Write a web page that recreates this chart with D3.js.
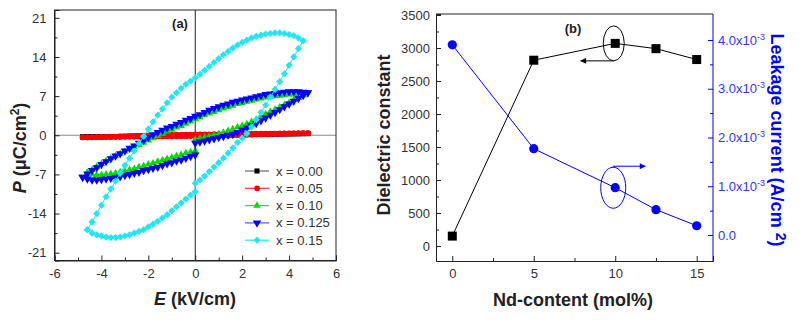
<!DOCTYPE html>
<html>
<head>
<meta charset="utf-8">
<script src="https://cdn.jsdelivr.net/npm/d3@7"></script>
<style>
body { margin: 0; background: #fff; }
svg { font-family: Arial, "Liberation Sans", sans-serif; }
.axis text { fill: #333; font-size: 13px; }
.axis path, .axis line { stroke: #222; }
</style>
</head>
<body>
<svg id="chart" width="799" height="320"></svg>
<script>
// ---- data, panel (a): P-E loops, sampled every 0.2 kV/cm ----
var E_48 = [-4.8,-4.6,-4.4,-4.2,-4.0,-3.8,-3.6,-3.4,-3.2,-3.0,-2.8,-2.6,-2.4,-2.2,-2.0,-1.8,-1.6,-1.4,-1.2,-1.0,-0.8,-0.6,-0.4,-0.2,0,
            0.2,0.4,0.6,0.8,1.0,1.2,1.4,1.6,1.8,2.0,2.2,2.4,2.6,2.8,3.0,3.2,3.4,3.6,3.8,4.0,4.2,4.4,4.6,4.8];
var E_46 = [-4.6,-4.4,-4.2,-4.0,-3.8,-3.6,-3.4,-3.2,-3.0,-2.8,-2.6,-2.4,-2.2,-2.0,-1.8,-1.6,-1.4,-1.2,-1.0,-0.8,-0.6,-0.4,-0.2,0,
            0.2,0.4,0.6,0.8,1.0,1.2,1.4,1.6,1.8,2.0,2.2,2.4,2.6,2.8,3.0,3.2,3.4,3.6,3.8,4.0,4.2,4.4,4.6];

var x000Upper = [-0.30,-0.29,-0.28,-0.27,-0.26,-0.25,-0.24,-0.23,-0.21,-0.19,-0.17,-0.15,-0.13,-0.11,-0.09,-0.07,-0.05,-0.03,-0.01,0.01,0.02,0.03,0.04,0.05,0.06,
                 0.07,0.08,0.09,0.10,0.11,0.12,0.13,0.14,0.15,0.16,0.17,0.18,0.19,0.20,0.21,0.22,0.23,0.24,0.25,0.26,0.27,0.28,0.29,0.30];
var x000Lower = [-0.30,-0.29,-0.28,-0.27,-0.26,-0.25,-0.24,-0.23,-0.22,-0.21,-0.20,-0.19,-0.18,-0.17,-0.16,-0.15,-0.14,-0.13,-0.12,-0.11,-0.10,-0.09,-0.08,-0.07,-0.06,
                 -0.05,-0.04,-0.03,-0.02,-0.01,0.01,0.03,0.05,0.07,0.09,0.11,0.13,0.15,0.17,0.19,0.21,0.23,0.24,0.25,0.26,0.27,0.28,0.29,0.30];
var x005Upper = [-0.38,-0.36,-0.34,-0.32,-0.30,-0.28,-0.26,-0.24,-0.22,-0.19,-0.16,-0.13,-0.10,-0.07,-0.04,-0.01,0.02,0.04,0.06,0.08,0.10,0.11,0.12,0.13,0.14,
                 0.15,0.16,0.17,0.18,0.19,0.20,0.21,0.22,0.23,0.24,0.25,0.26,0.27,0.28,0.29,0.30,0.31,0.32,0.33,0.34,0.35,0.36,0.37,0.38];
var x005Lower = [-0.38,-0.37,-0.36,-0.35,-0.34,-0.33,-0.32,-0.31,-0.30,-0.29,-0.28,-0.27,-0.26,-0.25,-0.24,-0.23,-0.22,-0.21,-0.20,-0.19,-0.18,-0.17,-0.16,-0.15,-0.14,
                 -0.13,-0.12,-0.11,-0.10,-0.08,-0.06,-0.04,-0.02,0.01,0.04,0.07,0.10,0.13,0.16,0.19,0.22,0.24,0.26,0.28,0.30,0.32,0.34,0.36,0.38];
var x010Upper = [-6.7,-6.2,-5.6,-5.1,-4.6,-4.1,-3.7,-3.3,-2.9,-2.5,-2.1,-1.7,-1.3,-0.9,-0.5,-0.1,0.3,0.7,1.0,1.4,1.7,2.1,2.5,2.9,
                 3.2,3.6,3.9,4.2,4.5,4.8,5.1,5.3,5.6,5.8,6.0,6.2,6.4,6.6,6.8,6.9,7.0,7.1,7.2,7.3,7.3,7.3,7.2];
var x010Lower = [-6.7,-7.0,-7.1,-7.1,-7.0,-6.9,-6.8,-6.6,-6.4,-6.2,-6.0,-5.7,-5.5,-5.2,-5.0,-4.7,-4.5,-4.2,-4.0,-3.7,-3.5,-3.2,-3.0,-2.8,
                 -0.6,-0.4,-0.2,0.0,0.2,0.5,0.8,1.1,1.4,1.7,2.0,2.4,2.8,3.3,3.8,4.2,4.6,5.0,5.4,5.8,6.3,6.7,7.2];
var x0125Upper = [-7.5,-6.9,-6.3,-5.8,-5.2,-4.7,-4.2,-3.7,-3.3,-2.8,-2.3,-1.9,-1.4,-0.9,-0.4,0.1,0.5,0.9,1.3,1.6,2.0,2.3,2.7,3.0,3.4,
                  3.7,4.1,4.5,4.8,5.1,5.4,5.6,5.9,6.1,6.3,6.5,6.7,6.9,7.1,7.3,7.4,7.5,7.6,7.7,7.8,7.8,7.8,7.7,7.6];
var x0125Lower = [-7.5,-7.8,-8.0,-8.0,-7.9,-7.8,-7.7,-7.6,-7.4,-7.2,-7.0,-6.8,-6.6,-6.3,-6.1,-5.9,-5.7,-5.4,-5.1,-4.9,-4.6,-4.4,-4.1,-3.8,-3.5,
                  -1.2,-1.0,-0.8,-0.6,-0.4,-0.2,0.0,0.2,0.5,0.9,1.3,1.7,2.1,2.6,3.1,3.6,4.1,4.6,5.1,5.6,6.1,6.6,7.1,7.6];
var x015Upper = [-16.9,-15.5,-14.0,-12.5,-11.0,-9.6,-8.2,-6.8,-5.4,-4.1,-2.8,-1.5,-0.2,1.1,2.4,3.6,4.7,5.8,6.8,7.6,8.4,9.1,9.7,10.3,
                 10.9,11.6,12.3,13.0,13.7,14.4,15.0,15.6,16.1,16.6,17.0,17.4,17.7,17.9,18.1,18.2,18.3,18.3,18.2,18.0,17.8,17.4,16.9];
var x015Lower = [-16.9,-17.5,-17.8,-18.0,-18.2,-18.3,-18.3,-18.2,-18.0,-17.8,-17.5,-17.2,-16.9,-16.4,-15.9,-15.4,-14.8,-14.2,-13.5,-12.8,-12.1,-11.4,-10.7,-10.1,
                 -8.0,-7.3,-6.5,-5.7,-4.9,-4.1,-3.2,-2.3,-1.3,-0.5,0.3,1.5,2.8,4.1,5.4,6.8,8.2,9.6,11.0,12.5,14.0,15.5,16.9];
// second reading at E = 0 on the rising branch (the step seen in the loops)
var jumpAtZero = [null, null, -0.8, -1.4, -8.6];

var loopLabels = ['x = 0.00', 'x = 0.05', 'x = 0.10', 'x = 0.125', 'x = 0.15'];
var loopGrids = [E_48, E_48, E_46, E_48, E_46];
var loopUpper = [x000Upper, x005Upper, x010Upper, x0125Upper, x015Upper];
var loopLower = [x000Lower, x005Lower, x010Lower, x0125Lower, x015Lower];

var eTicks = [-6, -4, -2, 0, 2, 4, 6];
var eMinor = [-5, -3, -1, 1, 3, 5];
var pTicks = [-21, -14, -7, 0, 7, 14, 21];
var pMinor = [-17.5, -10.5, -3.5, 3.5, 10.5, 17.5];

// ---- data, panel (b) ----
var ndContent = [0, 5, 10, 12.5, 15];
var dielectric = [150, 2815, 3070, 2990, 2825];
var leakage = [3.9e-3, 1.77e-3, 0.97e-3, 0.52e-3, 0.19e-3];

var ndTicks = [0, 5, 10, 15];
var ndMinor = [2.5, 7.5, 12.5];
var dielTicks = [0, 500, 1000, 1500, 2000, 2500, 3000, 3500];
var dielMinor = [250, 750, 1250, 1750, 2250, 2750, 3250];
var leakTicks = [0, 1e-3, 2e-3, 3e-3, 4e-3];
var leakMinor = [0.5e-3, 1.5e-3, 2.5e-3, 3.5e-3];

// ---- styles ----
var loopColors = ['#000000', '#ff0000', '#00dd00', '#0000ff', '#22e6f2'];
var loopLineColors = ['#666666', '#ff3333', '#33dd33', '#5555ff', '#22e6f2'];
var loopShapes = ['square', 'circle', 'up', 'down', 'diamond'];
var loopSizes = [26, 26, 24, 30, 26];
var blue = '#0000ff';
var blueText = '#3535ff';

var svg = d3.select('#chart');

function symbolPath(shape, size) {
    var type = { square: d3.symbolSquare, circle: d3.symbolCircle, up: d3.symbolTriangle,
                 down: d3.symbolTriangle, diamond: d3.symbolSquare }[shape];
    return d3.symbol().type(type).size(size)();
}
function symbolRot(shape) {
    return shape === 'down' ? 180 : (shape === 'diamond' ? 45 : 0);
}

function minorAxis(g, axis) {
    g.call(axis).call(function(s) { s.select('.domain').remove(); });
}

/* ================= panel (a) ================= */
var ax = d3.scaleLinear().domain([-6, 6]).range([54.5, 336]);
var ay = d3.scaleLinear().domain([-22.4, 22.4]).range([260.5, 10]);

// zero lines
svg.append('line')
    .attr('x1', ax(-6)).attr('x2', ax(6))
    .attr('y1', ay(0)).attr('y2', ay(0))
    .attr('stroke', '#888').attr('stroke-width', 1.2);
svg.append('line')
    .attr('x1', ax(0)).attr('x2', ax(0))
    .attr('y1', ay(22.4)).attr('y2', ay(-22.4))
    .attr('stroke', '#222').attr('stroke-width', 1);

function loopPoints(i) {
    var grid = loopGrids[i], pts = [];
    grid.forEach(function(e, k) {
        pts.push([e, loopLower[i][k]]);
        if (e === 0 && jumpAtZero[i] !== null) pts.push([0, jumpAtZero[i]]);
    });
    for (var k = grid.length - 1; k >= 0; k--) pts.push([grid[k], loopUpper[i][k]]);
    return pts.filter(function(p) { return p[1] !== undefined; });
}

var loopLine = d3.line()
    .x(function(d) { return ax(d[0]); })
    .y(function(d) { return ay(d[1]); });

loopLabels.forEach(function(label, i) {
    var pts = loopPoints(i);
    var g = svg.append('g').attr('class', 'loop');
    g.append('path')
        .attr('d', loopLine(pts))
        .attr('fill', 'none')
        .attr('stroke', loopColors[i])
        .attr('stroke-width', 1);
    g.selectAll('path.m')
        .data(pts).enter()
        .append('path')
          .attr('class', 'm')
          .attr('d', symbolPath(loopShapes[i], loopSizes[i]))
          .attr('fill', loopColors[i])
          .attr('transform', function(d) {
              return 'translate(' + ax(d[0]) + ',' + ay(d[1]) + ') rotate(' + symbolRot(loopShapes[i]) + ')';
          });
});

// axes a
svg.append('g').attr('class', 'axis')
    .attr('transform', 'translate(0,' + ay(-22.4) + ')')
    .call(d3.axisBottom(ax).tickValues(eTicks).tickSize(-5).tickPadding(8)
          .tickFormat(function(d) { return String(d); }));
minorAxis(svg.append('g').attr('class', 'axis').attr('transform', 'translate(0,' + ay(-22.4) + ')'),
          d3.axisBottom(ax).tickValues(eMinor).tickSize(-3).tickFormat(''));
svg.append('g').attr('class', 'axis')
    .attr('transform', 'translate(' + ax(-6) + ',0)')
    .call(d3.axisLeft(ay).tickValues(pTicks).tickSize(-5).tickPadding(8)
          .tickFormat(function(d) { return String(d); }));
minorAxis(svg.append('g').attr('class', 'axis').attr('transform', 'translate(' + ax(-6) + ',0)'),
          d3.axisLeft(ay).tickValues(pMinor).tickSize(-3).tickFormat(''));
svg.append('rect')
    .attr('x', ax(-6)).attr('y', ay(22.4))
    .attr('width', ax(6) - ax(-6)).attr('height', ay(-22.4) - ay(22.4))
    .attr('fill', 'none').attr('stroke', '#222');

svg.append('text').attr('x', 180).attr('y', 28)
    .attr('text-anchor', 'middle').attr('font-weight', 'bold').attr('font-size', 13)
    .attr('fill', '#222').text('(a)');

// legend
var leg = svg.append('g').attr('transform', 'translate(245,171)');
loopLabels.forEach(function(label, i) {
    var row = leg.append('g').attr('transform', 'translate(0,' + (i * 17.3) + ')');
    row.append('line').attr('x1', 0).attr('x2', 24).attr('y1', 0).attr('y2', 0)
        .attr('stroke', loopLineColors[i]).attr('stroke-width', 1.2);
    row.append('path')
        .attr('d', symbolPath(loopShapes[i], loopSizes[i]))
        .attr('fill', loopColors[i])
        .attr('transform', 'translate(12,0) rotate(' + symbolRot(loopShapes[i]) + ')');
    row.append('text').attr('x', 31).attr('y', 4.5)
        .attr('font-size', 13).attr('fill', '#333').text(label);
});

// axis titles a
var pt = svg.append('text')
    .attr('transform', 'translate(26,148) rotate(-90)')
    .attr('text-anchor', 'middle').attr('font-size', 18).attr('font-weight', 'bold').attr('fill', '#222');
pt.append('tspan').attr('font-style', 'italic').text('P');
pt.append('tspan').text(' (\u03bcC/cm');
pt.append('tspan').attr('font-size', 12).attr('dy', -7).text('2');
pt.append('tspan').attr('dy', 7).text(')');

var et = svg.append('text')
    .attr('x', 195).attr('y', 305)
    .attr('text-anchor', 'middle').attr('font-size', 18).attr('font-weight', 'bold').attr('fill', '#222');
et.append('tspan').attr('font-style', 'italic').text('E');
et.append('tspan').text(' (kV/cm)');

/* ================= panel (b) ================= */
var bx = d3.scaleLinear().domain([-1, 16]).range([436, 713]);
var byL = d3.scaleLinear().domain([-227, 3515]).range([261, 14]);
var byR = d3.scaleLinear().domain([-0.533e-3, 4.533e-3]).range([261, 14]);

var bLeft = bx(-1), bRight = bx(16), bTop = byL(3515), bBottom = byL(-227);

// frame: top black, right blue
svg.append('line').attr('x1', bLeft).attr('x2', bRight).attr('y1', bTop).attr('y2', bTop).attr('stroke', '#222');

svg.append('g').attr('class', 'axis')
    .attr('transform', 'translate(0,' + bBottom + ')')
    .call(d3.axisBottom(bx).tickValues(ndTicks).tickSize(-5).tickPadding(8));
minorAxis(svg.append('g').attr('class', 'axis').attr('transform', 'translate(0,' + bBottom + ')'),
          d3.axisBottom(bx).tickValues(ndMinor).tickSize(-3).tickFormat(''));
svg.append('g').attr('class', 'axis')
    .attr('transform', 'translate(' + bLeft + ',0)')
    .call(d3.axisLeft(byL).tickValues(dielTicks).tickSize(-5).tickPadding(6).tickFormat(d3.format('d')));
minorAxis(svg.append('g').attr('class', 'axis').attr('transform', 'translate(' + bLeft + ',0)'),
          d3.axisLeft(byL).tickValues(dielMinor).tickSize(-3).tickFormat(''));

var rAxis = svg.append('g').attr('class', 'axis raxis')
    .attr('transform', 'translate(' + bRight + ',0)')
    .call(d3.axisRight(byR).tickValues(leakTicks).tickSize(-5).tickPadding(5).tickFormat(''));
rAxis.selectAll('.tick text').each(function(d) {
    var t = d3.select(this).attr('fill', blueText).style('fill', blueText);
    if (d === 0) { t.text('0.0'); return; }
    t.append('tspan').text((d * 1000).toFixed(1) + 'x10');
    t.append('tspan').attr('font-size', 9).attr('dy', -5).text('-3');
});
minorAxis(svg.append('g').attr('class', 'axis raxis').attr('transform', 'translate(' + bRight + ',0)'),
          d3.axisRight(byR).tickValues(leakMinor).tickSize(-3).tickFormat(''));
svg.selectAll('.raxis path, .raxis line').style('stroke', blue);
svg.select('.raxis .domain').attr('d', 'M0,' + bTop + 'V' + bBottom);

// dielectric constant
var dielLine = d3.line()
    .x(function(d, i) { return bx(ndContent[i]); })
    .y(function(d) { return byL(d); });
svg.append('path').attr('d', dielLine(dielectric))
    .attr('fill', 'none').attr('stroke', '#000').attr('stroke-width', 1);
svg.selectAll('rect.diel')
    .data(dielectric).enter()
    .append('rect').attr('class', 'diel')
      .attr('x', function(d, i) { return bx(ndContent[i]) - 4.5; })
      .attr('y', function(d) { return byL(d) - 4.5; })
      .attr('width', 9).attr('height', 9)
      .attr('fill', '#000');

// leakage current
var leakLine = d3.line()
    .x(function(d, i) { return bx(ndContent[i]); })
    .y(function(d) { return byR(d); });
svg.append('path').attr('d', leakLine(leakage))
    .attr('fill', 'none').attr('stroke', blue).attr('stroke-width', 1);
svg.selectAll('circle.leak')
    .data(leakage).enter()
    .append('circle').attr('class', 'leak')
      .attr('cx', function(d, i) { return bx(ndContent[i]); })
      .attr('cy', function(d) { return byR(d); })
      .attr('r', 4.6)
      .attr('fill', blue);

// annotations: ellipses with arrows towards each axis
var defs = svg.append('defs');
[['arrK', '#000'], ['arrB', blue]].forEach(function(a) {
    defs.append('marker').attr('id', a[0])
        .attr('viewBox', '0 0 10 10').attr('refX', 9).attr('refY', 5)
        .attr('markerWidth', 7).attr('markerHeight', 6).attr('orient', 'auto')
      .append('path').attr('d', 'M0,0L10,5L0,10Z').attr('fill', a[1]);
});
var kx = bx(ndContent[2]) - 1.5, ky = byL(dielectric[2]);
svg.append('ellipse').attr('cx', kx).attr('cy', ky).attr('rx', 10.5).attr('ry', 17.5)
    .attr('fill', 'none').attr('stroke', '#000');
svg.append('line').attr('x1', kx).attr('y1', ky + 17.5).attr('x2', kx - 33).attr('y2', ky + 17.5)
    .attr('stroke', '#000').attr('marker-end', 'url(#arrK)');

var lx = bx(ndContent[2]) - 2, ly = byR(leakage[2]);
svg.append('ellipse').attr('cx', lx).attr('cy', ly).attr('rx', 12.5).attr('ry', 20.5)
    .attr('fill', 'none').attr('stroke', blue);
svg.append('path').attr('d', 'M' + lx + ',' + (ly - 20.5) + 'V' + (ly - 21.5) + 'H' + (lx + 32))
    .attr('fill', 'none').attr('stroke', blue).attr('marker-end', 'url(#arrB)');

svg.append('text').attr('x', 573).attr('y', 33)
    .attr('text-anchor', 'middle').attr('font-weight', 'bold').attr('font-size', 13)
    .attr('fill', '#222').text('(b)');

// axis titles b
svg.append('text')
    .attr('transform', 'translate(390,135) rotate(-90)')
    .attr('text-anchor', 'middle').attr('font-size', 18).attr('font-weight', 'bold').attr('fill', '#222')
    .text('Dielectric constant');
svg.append('text')
    .attr('x', 573).attr('y', 306)
    .attr('text-anchor', 'middle').attr('font-size', 18).attr('font-weight', 'bold').attr('fill', '#222')
    .text('Nd-content (mol%)');
var lt = svg.append('text')
    .attr('transform', 'translate(771,140) rotate(90)')
    .attr('text-anchor', 'middle').attr('font-size', 18).attr('font-weight', 'bold').attr('fill', blue);
lt.append('tspan').text('Leakage current (A/cm ');
lt.append('tspan').attr('font-size', 14).attr('dy', -5).text('2');
lt.append('tspan').attr('dy', 5).text(')');
</script>
</body>
</html>
